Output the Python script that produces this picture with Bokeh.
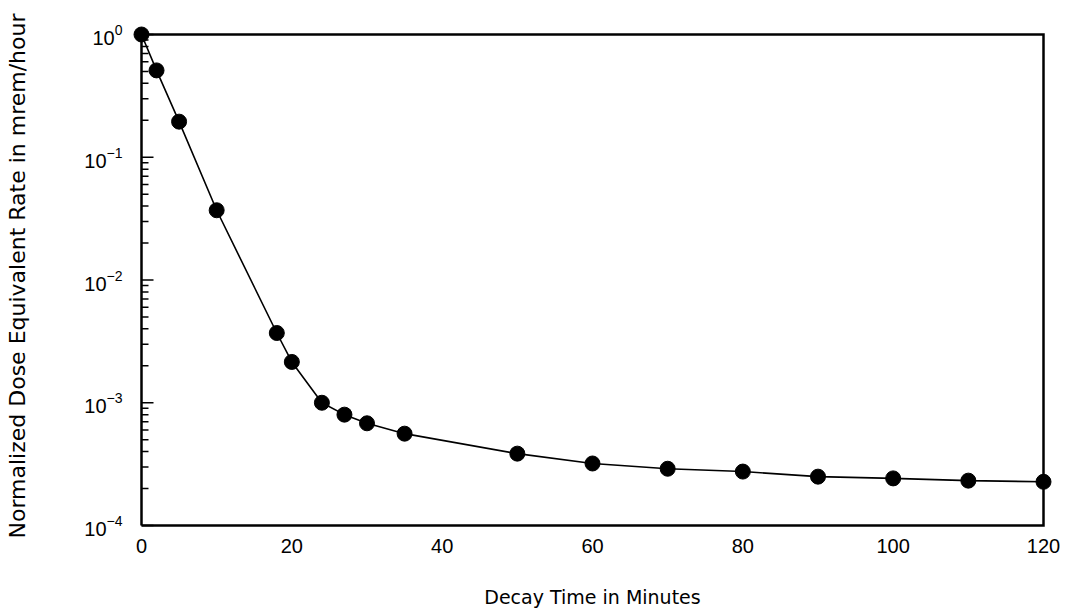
from bokeh.plotting import figure
from bokeh.models import FixedTicker, Range1d
from bokeh.embed import file_html
from bokeh.resources import INLINE

# Data
decay_time_min = [0, 2, 5, 10, 18, 20, 24, 27, 30, 35, 50, 60, 70, 80, 90, 100, 110, 120]
norm_dose_rate = [1.0, 0.51, 0.195, 0.037, 3.7e-3, 2.15e-3, 1.0e-3, 8.0e-4, 6.8e-4, 5.6e-4,
                  3.85e-4, 3.2e-4, 2.9e-4, 2.75e-4, 2.5e-4, 2.42e-4, 2.32e-4, 2.27e-4]
x_ticks = [0, 20, 40, 60, 80, 100, 120]
y_major = [1e-4, 1e-3, 1e-2, 1e-1, 1.0]
y_minor = [m * d for d in [1e-4, 1e-3, 1e-2, 1e-1] for m in range(2, 10)]

W, H = 1065, 611
BORDER_L, BORDER_R, BORDER_T, BORDER_B = 131, 12, 24, 84
FRAME_W = W - BORDER_L - BORDER_R

# padding (in px) around the axis box so end markers are not clipped by the frame
PAD_PX = 10
X_PAD = PAD_PX * (x_ticks[-1] - x_ticks[0]) / (FRAME_W - 2 * PAD_PX)
PX_PER_MIN = (FRAME_W - 2 * PAD_PX) / (x_ticks[-1] - x_ticks[0])
Y_PAD_TOP = 10 ** 0.0815
Y_PAD_BOT = 10 ** 0.0163

p = figure(width=W, height=H, y_axis_type="log",
           x_range=Range1d(x_ticks[0] - X_PAD, x_ticks[-1] + X_PAD),
           y_range=Range1d(y_major[0] / Y_PAD_BOT, y_major[-1] * Y_PAD_TOP),
           output_backend="svg", toolbar_location=None,
           min_border_left=BORDER_L, min_border_top=BORDER_T,
           min_border_right=BORDER_R, min_border_bottom=BORDER_B)

p.xgrid.visible = False
p.ygrid.visible = False
p.outline_line_color = None

# axis box drawn on the plot's own scales
x0, x1 = x_ticks[0], x_ticks[-1]
y0, y1 = y_major[0], y_major[-1]
p.line([x0, x1, x1, x0, x0], [y0, y0, y1, y1, y0], line_color="black",
       line_width=2.5, line_join="miter")

# inward y ticks (12 px major, 7 px minor)
maj_len = 12 / PX_PER_MIN
min_len = 7 / PX_PER_MIN
p.segment(x0=[x0] * len(y_major), y0=y_major, x1=[x0 + maj_len] * len(y_major), y1=y_major,
          line_color="black", line_width=1.5)
p.segment(x0=[x0] * len(y_minor), y0=y_minor, x1=[x0 + min_len] * len(y_minor), y1=y_minor,
          line_color="black", line_width=1.5)

# data
p.line(decay_time_min, norm_dose_rate, line_color="black", line_width=1.6)
p.scatter(decay_time_min, norm_dose_rate, size=15, fill_color="black", line_color="black")

xa = p.xaxis[0]
xa.ticker = FixedTicker(ticks=x_ticks)
xa.axis_label = "Decay Time in Minutes"
xa.axis_label_text_font = "DejaVu Sans"
xa.axis_label_text_font_size = "19px"
xa.axis_label_text_font_style = "normal"
xa.axis_label_standoff = 30
xa.major_label_text_font = "Liberation Sans"
xa.major_label_text_font_size = "20px"
xa.major_label_standoff = 11
xa.major_tick_line_color = None
xa.minor_tick_line_color = None
xa.major_tick_in = 0
xa.major_tick_out = 0
xa.minor_tick_in = 0
xa.minor_tick_out = 0
xa.axis_line_color = None
xa.major_label_text_color = "black"
xa.axis_label_text_color = "black"

ya = p.yaxis[0]
ya.ticker = FixedTicker(ticks=y_major, minor_ticks=y_minor)
ya.axis_label = "Normalized Dose Equivalent Rate in mrem/hour"
ya.axis_label_text_font = "DejaVu Sans"
ya.axis_label_text_font_size = "22px"
ya.axis_label_text_font_style = "normal"
ya.axis_label_standoff = 51
ya.major_label_text_font = "Liberation Sans"
ya.major_label_text_font_size = "20px"
ya.major_label_standoff = 9
ya.major_tick_line_color = None
ya.minor_tick_line_color = None
ya.major_tick_in = 0
ya.major_tick_out = 0
ya.minor_tick_in = 0
ya.minor_tick_out = 0
ya.axis_line_color = None
ya.major_label_text_color = "black"
ya.axis_label_text_color = "black"

open("out.html", "w").write(file_html(p, INLINE))
